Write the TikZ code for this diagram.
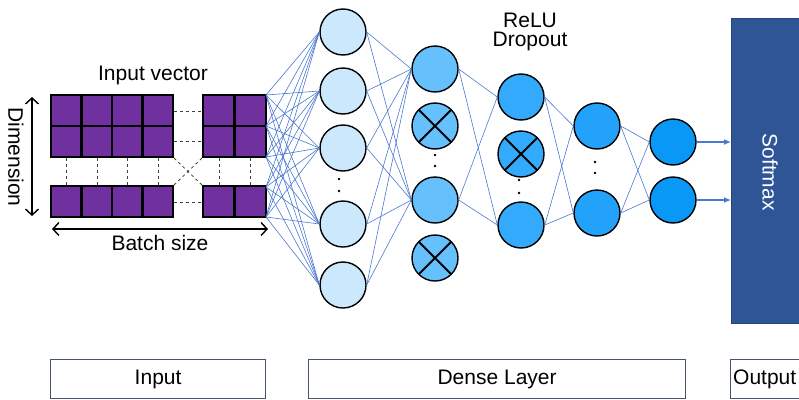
\documentclass[tikz,border=0pt]{standalone}
\usepackage{fontspec}
\setmainfont{Liberation Sans}
\usetikzlibrary{arrows.meta}
\definecolor{cellpurple}{HTML}{7030A0}
\definecolor{wire}{HTML}{4A78D2}
\definecolor{boxblue}{HTML}{2F5597}
\definecolor{frame}{HTML}{44546A}
\definecolor{nA}{HTML}{CCE8FC}
\definecolor{nB}{HTML}{66C0FC}
\definecolor{nC}{HTML}{33AAFC}
\definecolor{nD}{HTML}{22A2FB}
\definecolor{nE}{HTML}{0A98F6}
\begin{document}
\begin{tikzpicture}[x=1pt,y=-1pt,
  txt/.style={font=\fontsize{21}{24}\selectfont},
  neuron/.style={circle,draw=black,line width=1.4pt,minimum size=46pt,inner sep=0pt},
  dropped/.style={neuron,path picture={
      \draw[line width=2pt] (path picture bounding box.north west) -- (path picture bounding box.south east)
                             (path picture bounding box.north east) -- (path picture bounding box.south west);}},
  cell/.style={fill=cellpurple,draw=black,line width=2.6pt},
  gap/.style={black!75,line width=0.8pt,dash pattern=on 3pt off 3pt},
  wirel/.style={wire,line width=0.6pt},
  dimarrow/.style={{Straight Barb[length=6pt,width=13pt]}-{Straight Barb[length=6pt,width=13pt]},line width=1.4pt},
  stagebox/.style={draw=frame,line width=1.2pt,fill=white}
]
\useasboundingbox (0,0) rectangle (799,399);

% ---- input matrix ----
\foreach \c in {0,...,3}{
  \foreach \r in {0,1}{
    \draw[cell] (51+30.5*\c,95+31*\r) rectangle ++(30.5,31);}
  \draw[cell] (51+30.5*\c,186) rectangle ++(30.5,31);}
\foreach \c in {0,1}{
  \foreach \r in {0,1}{
    \draw[cell] (203+31.5*\c,95+31*\r) rectangle ++(31.5,31);}
  \draw[cell] (203+31.5*\c,186) rectangle ++(31.5,31);}
% dashed continuation lines
\foreach \y in {111,141,202} \draw[gap] (174,\y) -- (202,\y);
\foreach \x in {66,97,127,158,219,250} \draw[gap] (\x,158) -- (\x,185);
\draw[gap] (174,158) -- (202,185);
\draw[gap] (202,158) -- (174,185);

\node[txt] (invec) at (153,75) {Input vector};
\draw[dimarrow] (32,97) -- (32,216);
\node[txt,rotate=-90] (dimlbl) at (16,157) {Dimension};
\draw[dimarrow] (52,229) -- (268,229);
\node[txt] (batchlbl) at (160,243) {Batch size};

% source points on the right edge of the matrix
\coordinate (s1) at (266,95);
\coordinate (s2) at (266,126);
\coordinate (s3) at (266,157);
\coordinate (s4) at (266,187);
\coordinate (s5) at (266,217);

% ---- layer 1 ----
\node[neuron,fill=nA] (a1) at (343,32) {};
\node[neuron,fill=nA] (a2) at (343,91) {};
\node[neuron,fill=nA] (a3) at (343,148) {};
\node[neuron,fill=nA] (a4) at (343,224) {};
\node[neuron,fill=nA] (a5) at (343,285) {};
% ---- layer 2 ----
\node[neuron,fill=nB] (b1) at (435,69) {};
\node[dropped,fill=nB] (b2) at (435,126) {};
\node[neuron,fill=nB] (b3) at (435,200) {};
\node[dropped,fill=nB] (b4) at (435,258) {};
% ---- layer 3 ----
\node[neuron,fill=nC] (c1) at (521,97) {};
\node[dropped,fill=nC] (c2) at (521,154) {};
\node[neuron,fill=nC] (c3) at (521,225) {};
% ---- layer 4 ----
\node[neuron,fill=nD] (d1) at (597,126) {};
\node[neuron,fill=nD] (d2) at (597,213) {};
% ---- layer 5 ----
\node[neuron,fill=nE] (e1) at (673,142) {};
\node[neuron,fill=nE] (e2) at (673,200) {};

% ellipsis dots
\foreach \x/\ya/\yb in {339/179/191, 435/155/166, 519/180/193, 595/162/173}{
  \fill (\x,\ya) circle (1.3pt);
  \fill (\x,\yb) circle (1.3pt);}

\node[txt,align=center,inner sep=0pt] (relu) at (530,32) {ReLU\\[-5pt]Dropout};

% ---- softmax ----
\node[draw=boxblue!80!black,fill=boxblue,line width=1pt,minimum width=100pt,minimum height=305pt,anchor=north west,inner sep=0pt] (soft) at (731,18) {};
\node[txt,text=white,rotate=-90] (softlbl) at (770,172) {Softmax};

% ---- connections ----
\foreach \s in {s1,s2,s3,s4,s5}
  \foreach \t in {a1,a2,a3,a4,a5}
    \draw[wirel] (\s) -- (\t.west);
\foreach \s in {a1,a2,a3,a4,a5}
  \foreach \t in {b1,b3}
    \draw[wirel] (\s.east) -- (\t.west);
\foreach \s in {b1,b3}
  \foreach \t in {c1,c3}
    \draw[wirel] (\s.east) -- (\t.west);
\foreach \s in {c1,c3}
  \foreach \t in {d1,d2}
    \draw[wirel] (\s.east) -- (\t.west);
\foreach \s in {d1,d2}
  \foreach \t in {e1,e2}
    \draw[wirel] (\s.east) -- (\t.west);
\coordinate (o1) at (soft.west |- e1);
\coordinate (o2) at (soft.west |- e2);
\draw[wire,line width=1.3pt,-{Latex[length=7pt,width=6pt]}] (e1.east) -- (o1);
\draw[wire,line width=1.3pt,-{Latex[length=7pt,width=6pt]}] (e2.east) -- (o2);

% ---- stage labels ----
\node[stagebox,txt,minimum width=215pt,minimum height=39pt,anchor=north west] (stin) at (50,359) {Input};
\node[stagebox,txt,minimum width=377pt,minimum height=39pt,anchor=north west] (stdense) at (308,359) {Dense Layer};
\node[stagebox,minimum width=100pt,minimum height=39pt,anchor=north west] (stout) at (730,359) {};
\node[txt,anchor=west,inner sep=0pt] (stoutlbl) at (733,379) {Output};
\end{tikzpicture}
\end{document}
